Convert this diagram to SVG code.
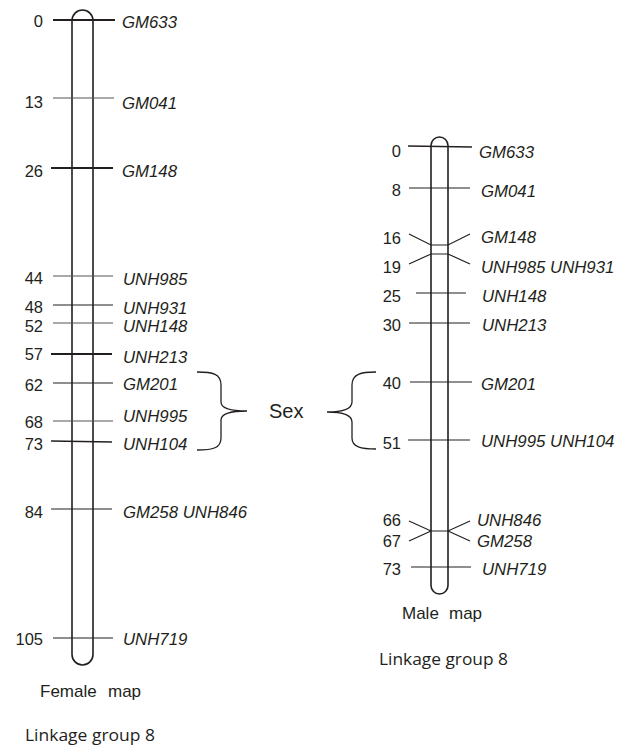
<svg xmlns="http://www.w3.org/2000/svg" width="629" height="750" viewBox="0 0 629 750">
<style>
.num{font-family:"Liberation Sans",Arial,sans-serif;font-size:16.5px;fill:#231f20;text-anchor:end}
.mk{font-family:"Liberation Sans",Arial,sans-serif;font-size:16.8px;font-style:italic;fill:#231f20}
.cap{font-family:"Liberation Sans",Arial,sans-serif;font-size:17px;fill:#231f20}
.lg{font-family:"Open Sans","Liberation Sans",sans-serif;font-size:17px;fill:#231f20}
.chr{fill:#fff;stroke:#231f20;stroke-width:1.6}
.t{stroke:#231f20;stroke-width:1.2;fill:none}
.tk{stroke:#231f20;stroke-width:2;fill:none}
.tg{stroke:#555;stroke-width:1.2;fill:none}
.br{stroke:#231f20;stroke-width:1.3;fill:none}
</style>
<rect width="629" height="750" fill="#fff"/>
<g id="female">
<rect class="chr" x="72" y="10" width="21" height="655" rx="10.5"/>
<g id="female-ticks">
<line class="tk" x1="53" y1="20" x2="115" y2="20"/>
<line class="tg" x1="53" y1="98" x2="114" y2="98"/>
<line class="tk" x1="51" y1="168" x2="113" y2="168"/>
<line class="tg" x1="53" y1="276" x2="113" y2="276"/>
<line class="t" x1="53" y1="305" x2="113" y2="305"/>
<line class="tg" x1="53" y1="323" x2="113" y2="323"/>
<line class="tk" x1="51" y1="354" x2="112" y2="354"/>
<line class="t" x1="53" y1="383" x2="113" y2="383"/>
<line class="tg" x1="53" y1="421" x2="113" y2="421"/>
<line class="t" x1="51" y1="441" x2="112" y2="442" style="stroke-width:1.5"/>
<line class="t" x1="51" y1="509" x2="112" y2="509"/>
<line class="t" x1="53" y1="638" x2="113" y2="638"/>
</g>
<g id="female-nums">
<text class="num" x="43" y="27">0</text>
<text class="num" x="43" y="108">13</text>
<text class="num" x="43" y="177">26</text>
<text class="num" x="43" y="284">44</text>
<text class="num" x="43" y="313">48</text>
<text class="num" x="43" y="331.5">52</text>
<text class="num" x="43" y="360">57</text>
<text class="num" x="43" y="391">62</text>
<text class="num" x="43" y="428">68</text>
<text class="num" x="43" y="450">73</text>
<text class="num" x="43" y="518">84</text>
<text class="num" x="43" y="645">105</text>
</g>
<g id="female-markers">
<text class="mk" x="122" y="28">GM633</text>
<text class="mk" x="122" y="109">GM041</text>
<text class="mk" x="122" y="177">GM148</text>
<text class="mk" x="123" y="285">UNH985</text>
<text class="mk" x="123" y="313.5">UNH931</text>
<text class="mk" x="123" y="331.5">UNH148</text>
<text class="mk" x="123" y="363">UNH213</text>
<text class="mk" x="123" y="390">GM201</text>
<text class="mk" x="123" y="422">UNH995</text>
<text class="mk" x="123" y="450">UNH104</text>
<text class="mk" x="123" y="518">GM258 UNH846</text>
<text class="mk" x="123" y="645">UNH719</text>
</g>
<text class="cap" x="40" y="697">Female</text>
<text class="cap" x="108" y="697">map</text>
<text class="lg" x="25" y="741" textLength="130" lengthAdjust="spacingAndGlyphs">Linkage group 8</text>
</g>
<g id="male">
<rect class="chr" x="431" y="137" width="17" height="457" rx="8.5"/>
<g id="male-ticks">
<line class="t" x1="408" y1="146" x2="472" y2="147" style="stroke-width:1.5"/>
<line class="t" x1="409" y1="188" x2="470" y2="188"/>
<polyline class="t" points="409,234 431,245 448,245 470,234"/>
<polyline class="t" points="409,264 431,254 448,254 470,264"/>
<line class="t" x1="416" y1="293" x2="466" y2="293"/>
<line class="t" x1="409" y1="323" x2="470" y2="323"/>
<line class="t" x1="410" y1="382" x2="472" y2="382"/>
<line class="t" x1="408" y1="440" x2="470" y2="440"/>
<polyline class="t" points="409,521 431,531 448,531 470,521"/>
<polyline class="t" points="409,541 431,531"/>
<polyline class="t" points="448,531 470,541"/>
<line class="t" x1="411" y1="567" x2="471" y2="567"/>
</g>
<g id="male-nums">
<text class="num" x="401" y="157">0</text>
<text class="num" x="401" y="196">8</text>
<text class="num" x="401" y="244">16</text>
<text class="num" x="401" y="273">19</text>
<text class="num" x="401" y="302">25</text>
<text class="num" x="401" y="331">30</text>
<text class="num" x="401" y="389">40</text>
<text class="num" x="401" y="449">51</text>
<text class="num" x="401" y="526">66</text>
<text class="num" x="401" y="547">67</text>
<text class="num" x="401" y="575">73</text>
</g>
<g id="male-markers">
<text class="mk" x="479" y="158">GM633</text>
<text class="mk" x="481" y="197">GM041</text>
<text class="mk" x="481" y="243">GM148</text>
<text class="mk" x="481" y="273">UNH985 UNH931</text>
<text class="mk" x="482" y="302">UNH148</text>
<text class="mk" x="482" y="331">UNH213</text>
<text class="mk" x="481" y="390">GM201</text>
<text class="mk" x="481" y="447">UNH995 UNH104</text>
<text class="mk" x="477" y="526">UNH846</text>
<text class="mk" x="477" y="547">GM258</text>
<text class="mk" x="482" y="575">UNH719</text>
</g>
<text class="cap" x="402" y="619">Male</text>
<text class="cap" x="449" y="619">map</text>
<text class="lg" x="379" y="665" textLength="129" lengthAdjust="spacingAndGlyphs">Linkage group 8</text>
</g>
<g id="connectors">
<path class="br" d="M197,372 C213,372 221,374 221,385 L221,402 C221,408 229,411 247,411 C229,411 221,414 221,420 L221,438 C221,448 213,450 197,450"/>
<path class="br" d="M376,372 C361,372 352,374 352,385 L352,402 C352,408 345,412 327,412 C345,412 352,416 352,422 L352,438 C352,447 361,449 376,449"/>
</g>
<g id="sex">
<text class="cap" x="269" y="418" style="font-size:20px">Sex</text>
</g>
</svg>
